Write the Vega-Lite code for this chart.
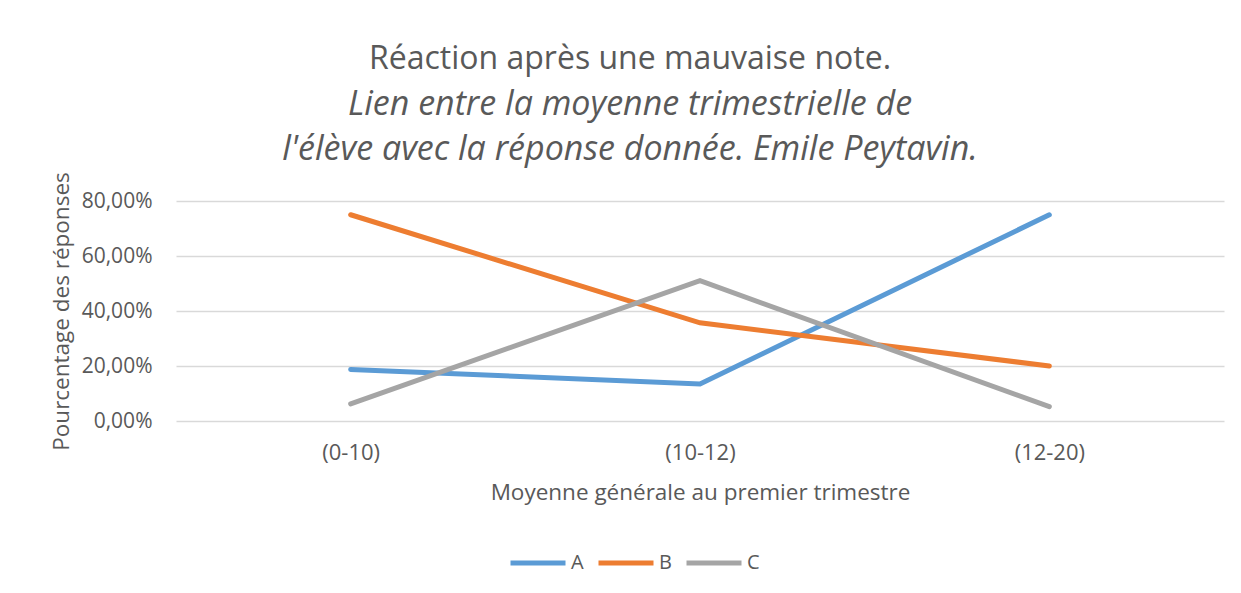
{
  "$schema": "https://vega.github.io/schema/vega-lite/v6.json",
  "width": 1048,
  "height": 220,
  "autosize": "none",
  "padding": {"left": 176, "top": 201, "right": 17, "bottom": 172},
  "background": "white",
  "config": {
    "locale": {"number": {"decimal": ",", "thousands": " ", "grouping": [3], "currency": ["", " €"]}},
    "view": {"stroke": null},
    "font": "Open Sans"
  },
  "title": {
    "text": "Réaction après une mauvaise note.",
    "subtitle": ["Lien entre la moyenne trimestrielle de", "l'élève avec la réponse donnée. Emile Peytavin."],
    "fontSize": 32,
    "fontWeight": "normal",
    "color": "#595959",
    "subtitleFontSize": 34,
    "subtitleFontStyle": "italic",
    "subtitleColor": "#595959",
    "subtitleLineHeight": 45,
    "subtitlePadding": 12,
    "anchor": "middle",
    "dx": -70,
    "offset": 4,
    "font": "Open Sans",
    "subtitleFont": "Open Sans"
  },
  "data": {
    "values": [
      {"categorie": "(0-10)", "serie": "A", "valeur": 0.1875},
      {"categorie": "(10-12)", "serie": "A", "valeur": 0.1345},
      {"categorie": "(12-20)", "serie": "A", "valeur": 0.75},
      {"categorie": "(0-10)", "serie": "B", "valeur": 0.75},
      {"categorie": "(10-12)", "serie": "B", "valeur": 0.357},
      {"categorie": "(12-20)", "serie": "B", "valeur": 0.20},
      {"categorie": "(0-10)", "serie": "C", "valeur": 0.0625},
      {"categorie": "(10-12)", "serie": "C", "valeur": 0.51},
      {"categorie": "(12-20)", "serie": "C", "valeur": 0.052}
    ]
  },
  "mark": {"type": "line", "strokeWidth": 5, "strokeCap": "round", "strokeJoin": "miter"},
  "encoding": {
    "x": {
      "field": "categorie",
      "type": "nominal",
      "sort": null,
      "scale": {"type": "point", "padding": 0.5},
      "axis": {
        "title": "Moyenne générale au premier trimestre",
        "titleFontSize": 22.5,
        "titleFontWeight": "normal",
        "titleColor": "#595959",
        "titlePadding": 18,
        "labelAngle": 0,
        "labelFontSize": 22,
        "labelColor": "#595959",
        "labelPadding": 21,
        "ticks": false,
        "domain": false,
        "grid": false
      }
    },
    "y": {
      "field": "valeur",
      "type": "quantitative",
      "scale": {"domain": [0, 0.8], "nice": false},
      "axis": {
        "title": "Pourcentage des réponses",
        "titleFontSize": 22.5,
        "titleFontWeight": "normal",
        "titleColor": "#595959",
        "titlePadding": 8,
        "format": ".2%",
        "values": [0, 0.2, 0.4, 0.6, 0.8],
        "labelFontSize": 21,
        "labelColor": "#595959",
        "labelPadding": 24,
        "ticks": false,
        "domain": false,
        "grid": true,
        "gridColor": "#D9D9D9",
        "gridWidth": 1.5
      }
    },
    "color": {
      "field": "serie",
      "type": "nominal",
      "scale": {"domain": ["A", "B", "C"], "range": ["#5B9BD5", "#ED7D31", "#A5A5A5"]},
      "legend": {
        "title": null,
        "orient": "none",
        "direction": "horizontal",
        "legendX": 332,
        "legendY": 332,
        "symbolType": "stroke",
        "symbolStrokeWidth": 5,
        "symbolSize": 3025,
        "labelFontSize": 20,
        "labelColor": "#595959",
        "labelOffset": 3,
        "columnPadding": 4
      }
    }
  }
}
